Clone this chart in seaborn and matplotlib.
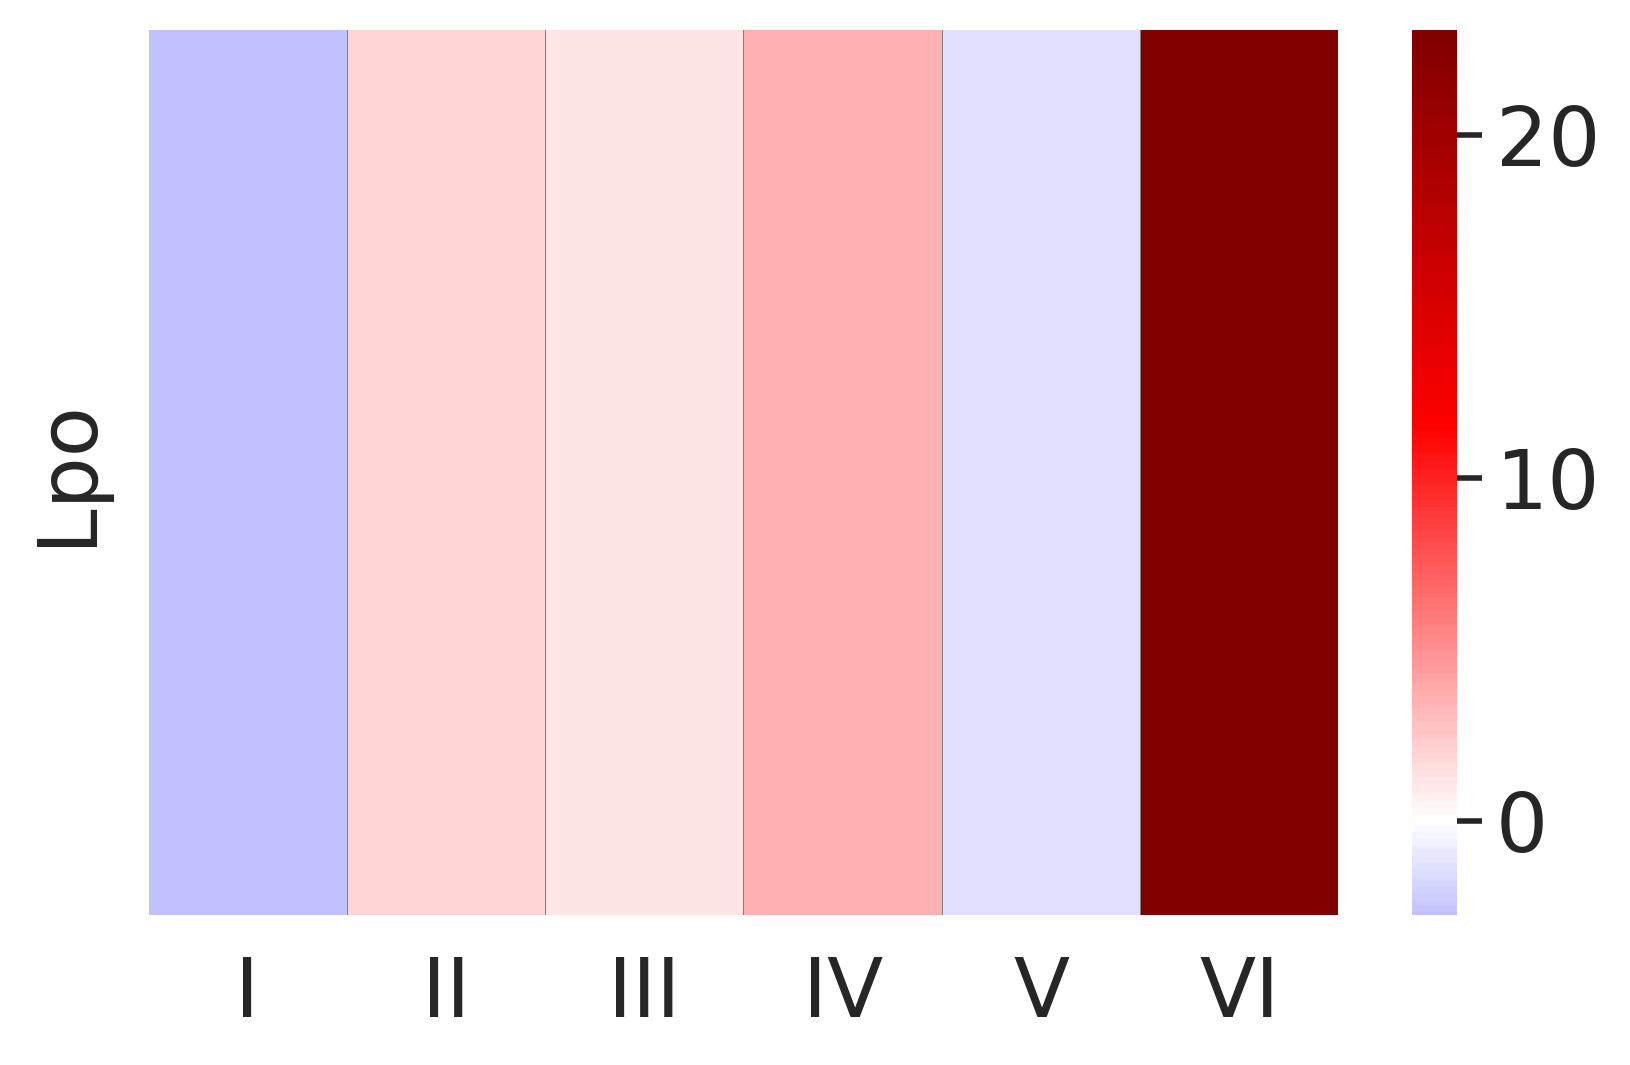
import matplotlib
matplotlib.use("Agg")
import matplotlib.pyplot as plt
import seaborn as sns
import pandas as pd
import numpy as np

# Data
columns = ["I", "II", "III", "IV", "V", "VI"]
row_labels = ["Lpo"]
values = [-2.73, 1.96, 1.22, 3.57, -1.41, 23.06]

sns.set_theme(style="white")
plt.rcParams['font.family'] = ['DejaVu Sans']
text_color = "#262626"

df = pd.DataFrame([values], index=row_labels, columns=columns)

fig = plt.figure(figsize=(16.31, 10.65), dpi=100)
ax = fig.add_axes([149/1631, 1 - 915/1065, (1338-149)/1631, (915-30)/1065])
cax = fig.add_axes([1412/1631, 1 - 915/1065, 45/1631, (915-30)/1065])

sns.heatmap(df, ax=ax, cbar_ax=cax, cmap="seismic", center=0,
            linewidths=0.6, linecolor="gray")

# hide the half-lines on the outer border
eps = 0.004
ax.set_xlim(eps, len(columns) - eps)
ax.set_ylim(len(row_labels) - eps, eps)

ax.tick_params(axis="both", length=0, labelsize=59, colors=text_color)
ax.tick_params(axis="x", pad=29)
ax.tick_params(axis="y", pad=30)
for t in ax.get_yticklabels():
    t.set_rotation(90)
    t.set_va("center")
for t in ax.get_xticklabels():
    t.set_rotation(0)
ax.set_xlabel("")
ax.set_ylabel("")

cax.tick_params(axis="y", length=18, width=4, labelsize=59, pad=10,
                colors=text_color, right=True)
cax.set_yticks([0, 10, 20])
for s in cax.spines.values():
    s.set_visible(False)

fig.savefig("out.png", dpi=100)
